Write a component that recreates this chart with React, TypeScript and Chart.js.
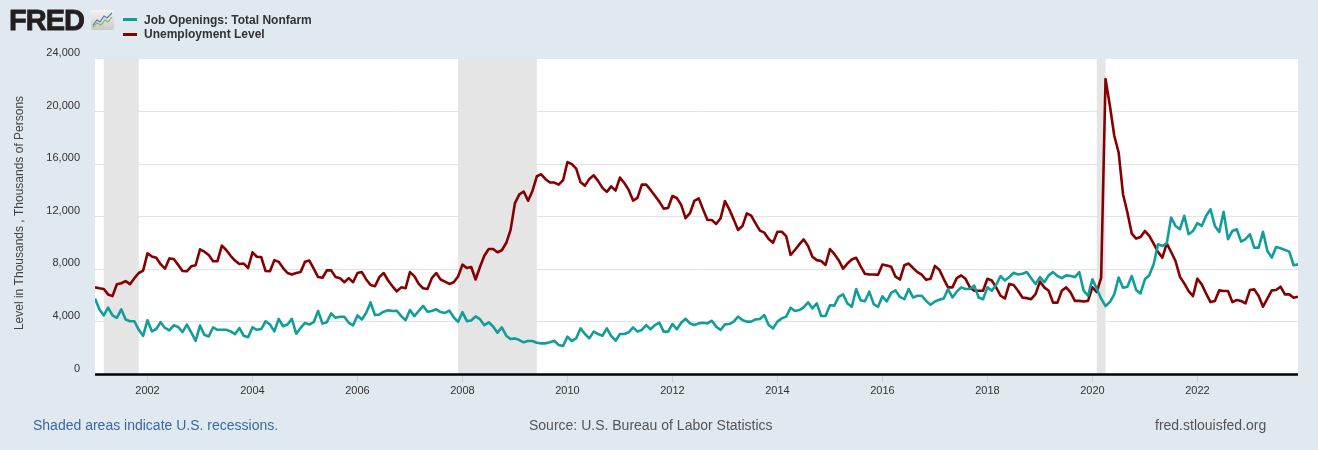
import React, { useEffect, useRef } from "react";
import { Chart, registerables } from "chart.js";

Chart.register(...registerables);

const FONT = '"Liberation Sans", Arial, Helvetica, sans-serif';

// Monthly observations, Jan 2001 .. Dec 2023 (thousands)
const START_YEAR = 2001;

const jobOpenings = [
  5780, 4960, 4490, 5090, 4490, 4310, 4960, 4180, 4050, 4050, 3400, 2940,
  4130, 3280, 3460, 3980, 3540, 3360, 3740, 3620, 3230, 3800, 3200, 2560,
  3720, 3020, 2890, 3590, 3400, 3400, 3400, 3280, 3070, 3540, 2940, 2840,
  3590, 3400, 3460, 4050, 3800, 3280, 4230, 3670, 3800, 4230, 3100, 3540,
  3930, 3800, 3980, 4830, 3870, 3980, 4650, 4310, 4390, 4390, 3930, 3740,
  4490, 4180, 4700, 5480, 4520, 4570, 4780, 4880, 4830, 4850, 4440, 4130,
  4900, 4440, 4830, 5220, 4780, 4830, 4960, 4750, 4680, 4860, 4350, 4000,
  4740, 4060, 4110, 4420, 4210, 3750, 3970, 3650, 3180, 3580, 2950, 2700,
  2750, 2620, 2450, 2550, 2550, 2420, 2370, 2370, 2450, 2570, 2240, 2170,
  2880, 2550, 2750, 3510, 3080, 2750, 3260, 3080, 2950, 3510, 2930, 2570,
  3080, 3080, 3210, 3580, 3260, 3390, 3760, 3440, 3760, 3940, 3260, 3260,
  3840, 3440, 3940, 4240, 3890, 3760, 3890, 3940, 3890, 4090, 3640, 3390,
  3810, 3840, 4020, 4400, 4140, 4020, 4020, 4190, 4220, 4520, 3760, 3510,
  4020, 4270, 4400, 5080, 4830, 4900, 5110, 5490, 5030, 5410, 4450, 4450,
  5270, 5240, 5900, 6100, 5400, 5150, 6500, 5650, 5570, 6300, 5350, 5150,
  5950, 5570, 6210, 6400, 5900, 5730, 6500, 5860, 5990, 5990, 5600, 5300,
  5550, 5680, 5780, 6500, 5860, 6300, 6630, 6500, 6500, 6760, 5860, 5730,
  6630, 6380, 6810, 7490, 7150, 7410, 7740, 7610, 7670, 7790, 7330, 6890,
  7410, 7020, 7540, 7790, 7490, 7330, 7540, 7490, 7410, 7790, 6380, 5990,
  7240, 6530, 5770, 5210, 5510, 6100, 7370, 6600, 6680, 7490, 6430, 6170,
  7240, 7550, 8380, 9910, 9780, 9980, 11940, 11300, 11050, 12070, 10670, 10920,
  11510, 11300, 12070, 12570, 11300, 10850, 12370, 10290, 10920, 11050, 10110, 10290,
  10670, 9650, 9650, 10850, 9400, 8890, 9700, 9600, 9480, 9350, 8310, 8380,
];

const unemploymentLevel = [
  6630, 6560, 6500, 6090, 5960, 6870, 6940, 7100, 6870, 7330, 7720, 7900,
  9210, 8980, 8880, 8390, 8050, 8830, 8780, 8340, 7870, 7850, 8230, 8310,
  9520, 9340, 9090, 8620, 8620, 9800, 9470, 9030, 8670, 8410, 8440, 8100,
  9290, 8960, 8930, 7870, 7850, 8700, 8570, 8100, 7720, 7610, 7720, 7790,
  8570, 8670, 8050, 7410, 7360, 7920, 7920, 7410, 7330, 7020, 7330, 7020,
  7720, 7790, 7230, 6810, 6710, 7410, 7720, 7150, 6710, 6330, 6630, 6560,
  7790, 7480, 6890, 6560, 6500, 7330, 7720, 7230, 7070, 6890, 7020, 7460,
  8360, 8100, 8180, 7230, 8180, 9030, 9550, 9550, 9300, 9450, 10000, 11000,
  13040, 13700, 13920, 13220, 13960, 15080, 15230, 14860, 14600, 14600, 14440, 14780,
  16160, 16000, 15660, 14620, 14370, 14880, 15150, 14730, 14200, 13890, 14310, 13990,
  14980, 14570, 14040, 13230, 13440, 14440, 14440, 14040, 13600, 13150, 12620, 12670,
  13580, 13430, 12900, 11890, 12270, 13200, 13400, 12560, 11750, 11750, 11450, 11880,
  13190, 12560, 11800, 10990, 11290, 12260, 12080, 11500, 10940, 10790, 10300, 10020,
  10860, 10860, 10530, 9090, 9470, 9900, 10280, 9770, 8960, 8700, 8630, 8330,
  9540, 9170, 8700, 8050, 8440, 8750, 8880, 8240, 7660, 7610, 7610, 7580,
  8370, 8290, 8190, 7440, 7225, 8310, 8440, 8100, 7790, 7590, 7200, 7280,
  8260, 7975, 7280, 6630, 6630, 7330, 7535, 7280, 6630, 6375, 6375, 6375,
  7280, 7150, 6630, 5990, 5780, 6890, 6810, 6375, 5860, 5810, 5730, 6115,
  7070, 6630, 6375, 5470, 5470, 6375, 6630, 6245, 5600, 5600, 5550, 5600,
  6630, 6270, 7365, 22480, 20450, 18160, 16890, 13715, 12320, 10720, 10340, 10460,
  10920, 10540, 9955, 9320, 8890, 9980, 9320, 8635, 7440, 6930, 6350, 5970,
  7290, 6855, 6145, 5510, 5590, 6400, 6350, 6350, 5510, 5665, 5590, 5410,
  6425, 6475, 5970, 5155, 5765, 6400, 6425, 6680, 6095, 6095, 5840, 5920,
];

const xTickYears = [2002, 2004, 2006, 2008, 2010, 2012, 2014, 2016, 2018, 2020, 2022];
const yTickValues = [0, 4000, 8000, 12000, 16000, 20000, 24000];

const recessionStarts = ["2001-03", "2007-12", "2020-02"];
const recessionEnds = ["2001-11", "2009-06", "2020-04"];

const seriesNames = ["Job Openings: Total Nonfarm", "Unemployment Level"];
const seriesColors = ["#119e9a", "#860000"];

const yAxisTitle = "Level in Thousands , Thousands of Persons";

const toYear = (ym: string) => {
  const [y, m] = ym.split("-").map(Number);
  return y + (m - 1) / 12;
};

const toPoints = (arr: number[]) => arr.map((v, i) => ({ x: START_YEAR + i / 12, y: v }));

const fredPlugin = {
  id: "fredDecor",
  beforeDraw(chart: any) {
    const { ctx, chartArea: a } = chart;
    ctx.save();
    ctx.fillStyle = "#ffffff";
    ctx.fillRect(a.left, a.top, a.right - a.left, a.bottom - a.top);
    ctx.restore();
  },
  beforeDatasetsDraw(chart: any) {
    const { ctx, chartArea: a } = chart;
    const xs = chart.scales.x;
    ctx.save();
    ctx.fillStyle = "#e5e5e5";
    recessionStarts.forEach((s, i) => {
      const x0 = xs.getPixelForValue(toYear(s));
      const x1 = xs.getPixelForValue(toYear(recessionEnds[i]));
      ctx.fillRect(x0, a.top, x1 - x0, a.bottom - a.top);
    });
    ctx.restore();
  },
  afterDatasetsDraw(chart: any) {
    const { ctx, chartArea: a } = chart;
    ctx.save();
    ctx.strokeStyle = "#000000";
    ctx.lineWidth = 2.5;
    ctx.beginPath();
    ctx.moveTo(a.left, a.bottom);
    ctx.lineTo(a.right, a.bottom);
    ctx.stroke();
    ctx.restore();
  },
  afterDraw(chart: any) {
    const { ctx } = chart;
    ctx.save();
    ctx.translate(20, 213);
    ctx.rotate(-Math.PI / 2);
    ctx.font = `12px ${FONT}`;
    ctx.fillStyle = "#444444";
    ctx.textAlign = "center";
    ctx.textBaseline = "middle";
    ctx.fillText(yAxisTitle, 0, 0);
    ctx.restore();
  },
};

export default function App() {
  const canvasRef = useRef<HTMLCanvasElement | null>(null);

  useEffect(() => {
    if (!canvasRef.current) return;
    const chart = new Chart(canvasRef.current, {
      type: "line",
      data: {
        datasets: [
          {
            label: seriesNames[0],
            data: toPoints(jobOpenings),
            borderColor: seriesColors[0],
            backgroundColor: seriesColors[0],
            borderWidth: 2.6,
            pointRadius: 0,
            tension: 0,
            borderJoinStyle: "round",
          },
          {
            label: seriesNames[1],
            data: toPoints(unemploymentLevel),
            borderColor: seriesColors[1],
            backgroundColor: seriesColors[1],
            borderWidth: 2.6,
            pointRadius: 0,
            tension: 0,
            borderJoinStyle: "round",
          },
        ],
      },
      options: {
        responsive: false,
        animation: false,
        events: [],
        layout: { padding: { left: 0, right: 20, top: 59, bottom: 45.5 } },
        plugins: {
          legend: { display: false },
          tooltip: { enabled: false },
          title: { display: false },
        },
        scales: {
          x: {
            type: "linear",
            min: START_YEAR,
            max: START_YEAR + (jobOpenings.length - 1) / 12,
            afterBuildTicks: (s: any) => {
              s.ticks = xTickYears.map((v) => ({ value: v }));
            },
            afterFit: (s: any) => {
              s.height = 30;
            },
            ticks: {
              autoSkip: false,
              maxRotation: 0,
              padding: 2,
              color: "#333333",
              font: { family: FONT, size: 11 },
              callback: (v: any) => String(v),
            },
            grid: {
              drawOnChartArea: false,
              drawTicks: true,
              tickLength: 8,
              color: "#c3d3e4",
            },
            border: { display: false },
          },
          y: {
            type: "linear",
            min: 0,
            max: 24000,
            afterBuildTicks: (s: any) => {
              s.ticks = yTickValues.map((v) => ({ value: v }));
            },
            afterFit: (s: any) => {
              s.width = 95;
            },
            ticks: {
              padding: 15,
              labelOffset: -6,
              color: "#333333",
              font: { family: FONT, size: 11 },
              callback: (v: any) => Number(v).toLocaleString("en-US"),
            },
            grid: {
              drawTicks: false,
              color: (c: any) =>
                c.tick && (c.tick.value === 0 || c.tick.value === 24000) ? "rgba(0,0,0,0)" : "#e3e3e3",
              lineWidth: 1,
            },
            border: { display: false },
          },
        },
      },
      plugins: [fredPlugin],
    } as any);
    return () => chart.destroy();
  }, []);

  const legendText: React.CSSProperties = {
    position: "absolute",
    left: 144,
    fontSize: 12,
    lineHeight: "14px",
    fontWeight: "bold",
    color: "#333",
    whiteSpace: "nowrap",
  };
  const footer: React.CSSProperties = {
    position: "absolute",
    top: 417,
    fontSize: 14,
    lineHeight: "16px",
    whiteSpace: "nowrap",
  };

  return (
    <div
      style={{
        position: "absolute",
        left: 0,
        top: 0,
        width: 1318,
        height: 450,
        background: "#e1e9f0",
        overflow: "hidden",
        fontFamily: FONT,
      }}
    >
      <canvas
        ref={canvasRef}
        width={1318}
        height={450}
        style={{ position: "absolute", left: 0, top: 0, width: 1318, height: 450 }}
      />
      <div
        style={{
          position: "absolute",
          left: 9,
          top: 6,
          fontSize: 29,
          lineHeight: "29px",
          fontWeight: "bold",
          color: "#231f20",
          letterSpacing: -1,
          WebkitTextStroke: "0.8px #231f20",
        }}
      >
        FRED
      </div>
      <svg
        style={{ position: "absolute", left: 91, top: 10 }}
        width={23}
        height={20}
        viewBox="0 0 23 20"
      >
        <defs>
          <linearGradient id="fredIconBg" x1="0" y1="0" x2="0" y2="1">
            <stop offset="0" stopColor="#f4f4f4" />
            <stop offset="1" stopColor="#c9c9c9" />
          </linearGradient>
        </defs>
        <rect x="0" y="0" width="23" height="20" rx="2" fill="url(#fredIconBg)" />
        <polyline points="2,15 6,10 9,12 13,6 16,8 21,3" fill="none" stroke="#4a7ebb" strokeWidth="1.2" />
        <polyline points="2,17 6,13 10,15 14,10 17,12 21,7" fill="none" stroke="#8db255" strokeWidth="1.2" />
      </svg>
      <div style={{ position: "absolute", left: 123, top: 18, width: 14, height: 3, background: seriesColors[0] }} />
      <div style={{ ...legendText, top: 13 }}>{seriesNames[0]}</div>
      <div style={{ position: "absolute", left: 123, top: 33, width: 14, height: 3, background: seriesColors[1] }} />
      <div style={{ ...legendText, top: 27 }}>{seriesNames[1]}</div>
      <div style={{ ...footer, left: 33, color: "#3a67a8" }}>Shaded areas indicate U.S. recessions.</div>
      <div style={{ ...footer, left: 529, color: "#555" }}>Source: U.S. Bureau of Labor Statistics</div>
      <div style={{ ...footer, left: 1155, color: "#555" }}>fred.stlouisfed.org</div>
    </div>
  );
}
